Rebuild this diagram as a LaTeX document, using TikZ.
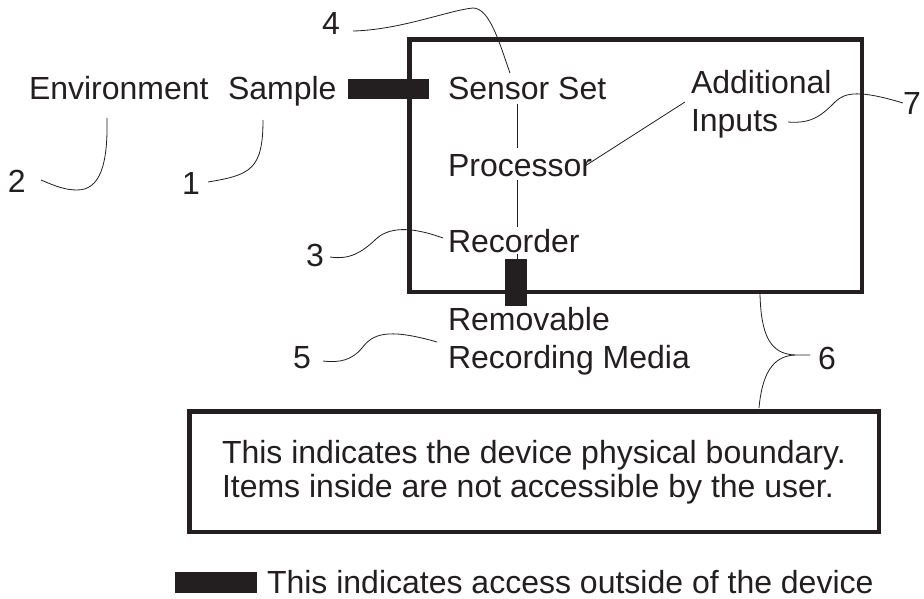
\documentclass[tikz,border=0pt]{standalone}
\usepackage{fontspec}
\setmainfont{Liberation Sans}
\definecolor{ink}{RGB}{35,31,32}
\begin{document}
\begin{tikzpicture}[x=1pt,y=-1pt,
  lbl/.style={anchor=base west,inner sep=0pt,outer sep=0pt,text=ink,font=\fontsize{32}{38}\selectfont},
  frame/.style={draw=ink,line width=4.5pt},
  accessbar/.style={fill=ink,draw=none},
  leader/.style={draw=ink,line width=0.8pt},
  link/.style={draw=ink,line width=0.8pt}]
\useasboundingbox (0,0) rectangle (924,599);
\fill[white] (0,0) rectangle (924,599);

% device boundary and access bars
\draw[frame] (409.5,39.5) rectangle (862,292);
\fill[accessbar] (348,79) rectangle (429,99);
\fill[accessbar] (505,259) rectangle (527,306);

% labels
\node[lbl] (env) at (29,100) {Environment};
\node[lbl] (sample) at (228,100) {Sample};
\node[lbl] (sensor) at (448,100) {Sensor Set};
\node[lbl] (proc) at (448,177) {Processor};
\node[lbl] (rec) at (448,252) {Recorder};
\node[lbl] (add1) at (691,94) {Additional};
\node[lbl] (add2) at (691,132) {Inputs};
\node[lbl] (rem1) at (448,330) {Removable};
\node[lbl] (rem2) at (448,368) {Recording Media};

% numbers
\node[lbl] (n1) at (182,194) {1};
\node[lbl] (n2) at (8,193) {2};
\node[lbl] (n3) at (306,266) {3};
\node[lbl] (n4) at (322,35) {4};
\node[lbl] (n5) at (293,368) {5};
\node[lbl] (n6) at (818,369) {6};
\node[lbl] (n7) at (903,115) {7};

% connector end points
\coordinate (ssB) at (517,104);
\coordinate (prT) at (517,148);
\coordinate (prB) at (517,180);
\coordinate (reT) at (517,227);
\coordinate (reB) at (517,254);
\coordinate (barT) at (517,259);
\coordinate (prR) at (585,166);
\coordinate (adL) at (685,102);

\draw[link] (ssB) -- (prT);
\draw[link] (prB) -- (reT);
\draw[link] (reB) -- (barT);
\draw[link] (prR) -- (adL);

% leader lines
\coordinate (l2a) at (41,180);
\coordinate (l2b) at (107,118);
\draw[leader] (l2a) .. controls (55,186) and (65,190) .. (77,190) .. controls (100,190) and (108,165) .. (l2b);

\coordinate (l1a) at (208,182);
\coordinate (l1b) at (263,120);
\draw[leader] (l1a) .. controls (250,175) and (263,170) .. (l1b);

\coordinate (l3a) at (330,257);
\coordinate (l3b) at (443,238);
\draw[leader] (l3a) .. controls (350,260) and (362,252) .. (375,240) .. controls (388,227) and (410,226) .. (l3b);

\coordinate (l4a) at (353,31);
\coordinate (l4b) at (510,73);
\draw[leader] (l4a) .. controls (400,30) and (450,10) .. (473,8) .. controls (490,8) and (500,45) .. (l4b);

\coordinate (l7a) at (788,122);
\coordinate (l7b) at (903,103);
\draw[leader] (l7a) .. controls (812,124) and (822,115) .. (835,102) .. controls (845,92) and (860,90) .. (l7b);

\coordinate (l5a) at (323,361);
\coordinate (l5b) at (437,342);
\draw[leader] (l5a) .. controls (340,363) and (352,360) .. (362,348) .. controls (372,335) and (385,327) .. (l5b);

\coordinate (l6top) at (760,294);
\coordinate (l6bot) at (759,408);
\coordinate (l6tip) at (795,355);
\coordinate (l6end) at (810,355);
\draw[leader] (l6top) .. controls (761,335) and (770,354) .. (l6tip) -- (l6end);
\draw[leader] (l6tip) .. controls (772,356) and (762,375) .. (l6bot);

% explanation box
\draw[frame] (189.5,411.5) rectangle (879,532);
\node[lbl] (note1) at (222,463) {This indicates the device physical boundary.};
\node[lbl] (note2) at (222,497) {Items inside are not accessible by the user.};

% legend
\fill[accessbar] (175,572) rectangle (257,593);
\node[lbl] (legend) at (267,593) {This indicates access outside of the device};
\end{tikzpicture}
\end{document}
